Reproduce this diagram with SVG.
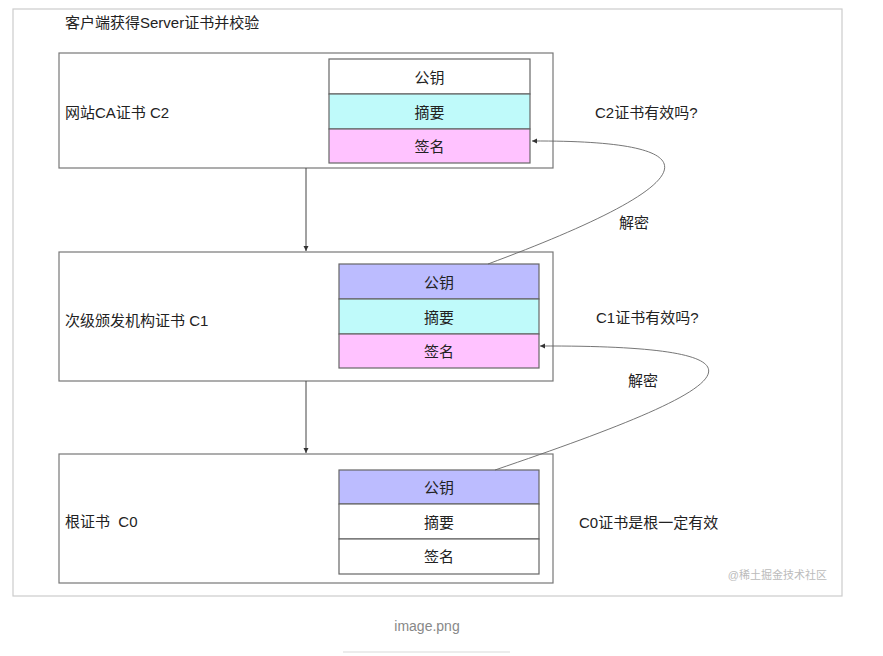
<svg xmlns="http://www.w3.org/2000/svg" width="883" height="656" viewBox="0 0 883 656">
<style>
text{font-family:"Liberation Sans","Noto Sans CJK SC",sans-serif;font-size:15px;fill:#222}
.box{fill:#fff;stroke:#777;stroke-width:1.2}
.cell{stroke:#666;stroke-width:1.2}
.c{text-anchor:middle;dominant-baseline:central}
.l{dominant-baseline:central}
.w{fill:#fff}.cy{fill:#bffafa}.pk{fill:#ffc2ff}.lv{fill:#bcbcff}
.edge{fill:none;stroke:#444;stroke-width:1}
.curve{fill:none;stroke:#666;stroke-width:0.9}
</style>
<defs>
<marker id="ah" markerWidth="6" markerHeight="6" refX="5" refY="3" orient="auto" markerUnits="userSpaceOnUse">
<path d="M0,0.5 L5,3 L0,5.5 Z" fill="#333"/>
</marker>
</defs>
<rect x="0" y="0" width="883" height="656" fill="#fff"/>
<rect x="13" y="9" width="829" height="587" fill="#fff" stroke="#ccc" stroke-width="1.2"/>
<text x="65" y="22" class="l">客户端获得Server证书并校验</text>

<g id="c2">
<rect class="box" x="59" y="53" width="494" height="115"/>
<text x="65" y="112" class="l">网站CA证书 C2</text>
<rect class="cell w" x="329" y="59" width="201" height="35"/>
<rect class="cell cy" x="329" y="94" width="201" height="35"/>
<rect class="cell pk" x="329" y="129" width="201" height="34"/>
<text x="429.5" y="77" class="c">公钥</text>
<text x="429.5" y="112" class="c">摘要</text>
<text x="429.5" y="146" class="c">签名</text>
</g>

<g id="c1">
<rect class="box" x="59" y="252" width="494" height="129"/>
<text x="65" y="320" class="l">次级颁发机构证书 C1</text>
<rect class="cell lv" x="339" y="264" width="200" height="35"/>
<rect class="cell cy" x="339" y="299" width="200" height="35"/>
<rect class="cell pk" x="339" y="334" width="200" height="34"/>
<text x="439" y="282" class="c">公钥</text>
<text x="439" y="317" class="c">摘要</text>
<text x="439" y="351" class="c">签名</text>
</g>

<g id="c0">
<rect class="box" x="59" y="454" width="494" height="129"/>
<text x="65" y="521" class="l" xml:space="preserve">根证书  C0</text>
<rect class="cell lv" x="339" y="470" width="200" height="34"/>
<rect class="cell w" x="339" y="504" width="200" height="35"/>
<rect class="cell w" x="339" y="539" width="200" height="35"/>
<text x="439" y="487" class="c">公钥</text>
<text x="439" y="522" class="c">摘要</text>
<text x="439" y="556" class="c">签名</text>
</g>

<g id="connectors">
<line class="edge" x1="306" y1="168" x2="306" y2="251" marker-end="url(#ah)"/>
<line class="edge" x1="306" y1="381" x2="306" y2="453" marker-end="url(#ah)"/>
<path class="curve" d="M488,264 C660,200 760,140 532,141" marker-end="url(#ah)"/>
<path class="curve" d="M495,470 C700,400 830,345 540,346" marker-end="url(#ah)"/>
</g>

<g id="labels">
<text x="595" y="112" class="l">C2证书有效吗?</text>
<text x="634" y="222" class="c">解密</text>
<text x="596" y="317" class="l">C1证书有效吗?</text>
<text x="643" y="380" class="c">解密</text>
<text x="579" y="522" class="l">C0证书是根一定有效</text>
</g>
<text x="827" y="575" class="l" style="font-size:11px;fill:#bbb;text-anchor:end">@稀土掘金技术社区</text>
<text x="427" y="626" class="c" style="font-size:14px;fill:#888">image.png</text>
<line x1="343" y1="652" x2="510" y2="652" stroke="#e6e6e6" stroke-width="1.5"/>
</svg>
